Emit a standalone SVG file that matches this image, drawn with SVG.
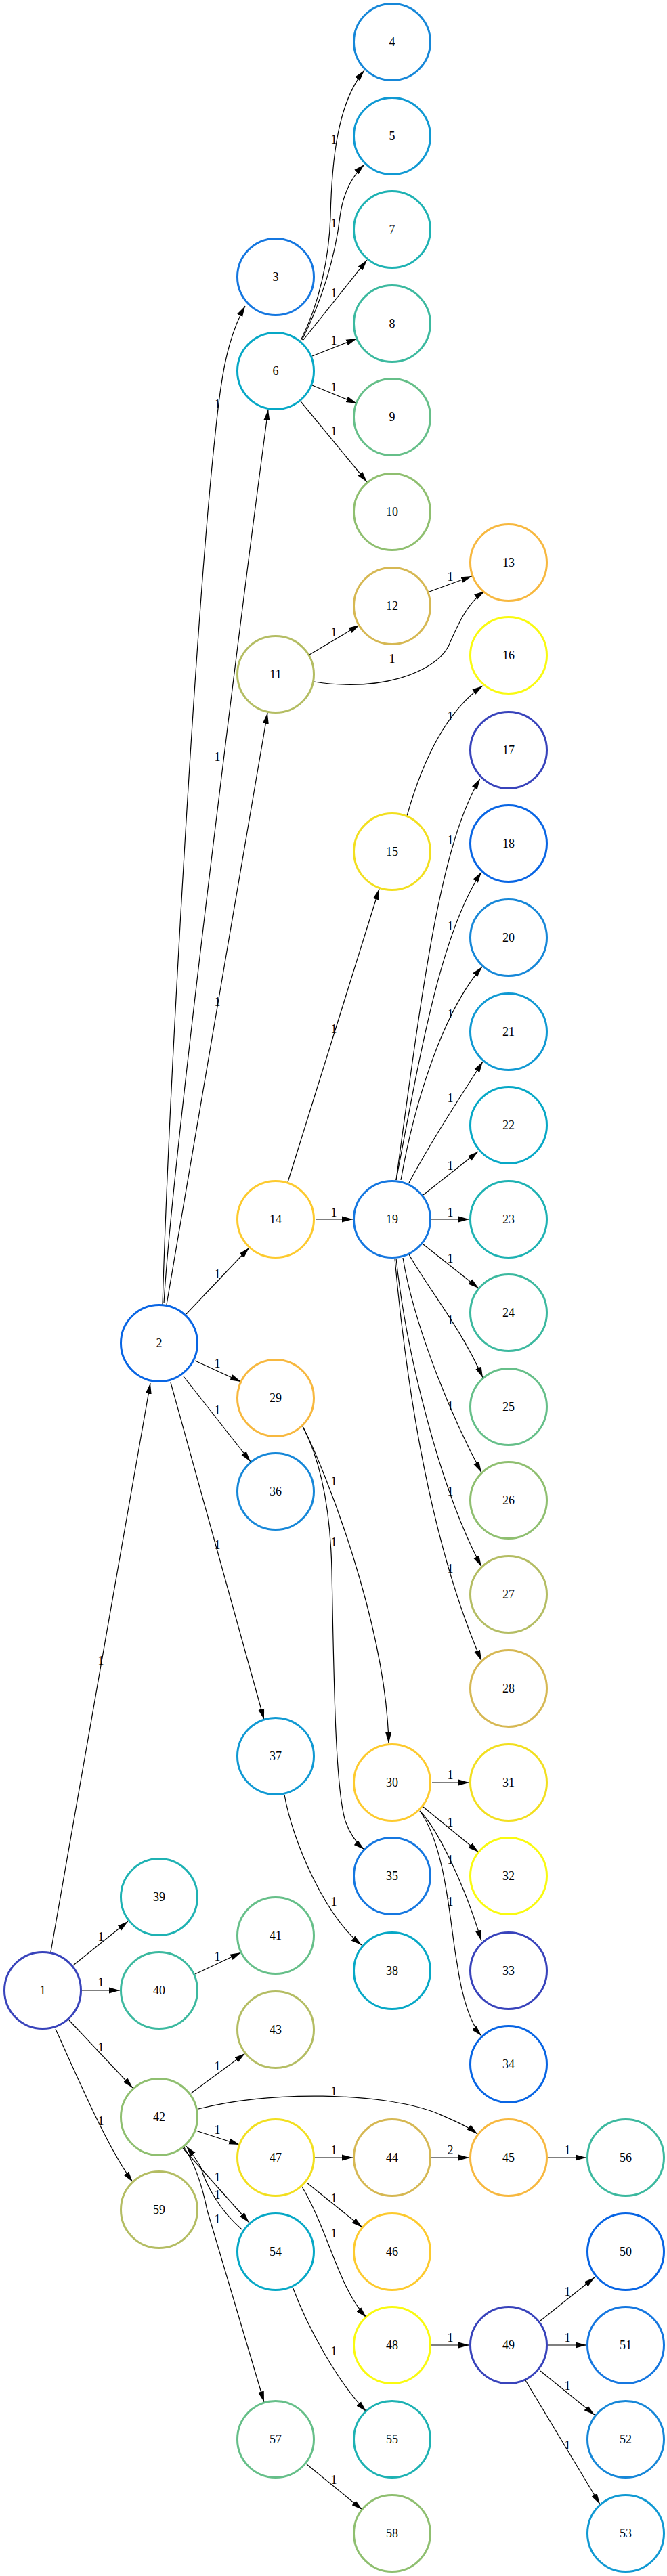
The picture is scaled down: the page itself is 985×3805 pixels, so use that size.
<svg xmlns="http://www.w3.org/2000/svg" width="985" height="3805" viewBox="0 0 985 3805">
<style>
.n{fill:#fff;stroke-width:3}
.t{font-family:"Liberation Serif","Times New Roman",serif;font-size:18px;text-anchor:middle;fill:#000}
.e{fill:none;stroke:#000;stroke-width:1.2;marker-end:url(#a)}
.c0{stroke:#3843bb}.c1{stroke:#0865e4}.c2{stroke:#1577e0}.c3{stroke:#1687d8}
.c4{stroke:#1099d3}.c5{stroke:#07a8c6}.c6{stroke:#1eb2b3}.c7{stroke:#3cb99f}
.c8{stroke:#66bf89}.c9{stroke:#8fbf70}.c10{stroke:#b4bd63}.c11{stroke:#d6b853}
.c12{stroke:#f7b83f}.c13{stroke:#fdca2e}.c14{stroke:#f2df1f}.c15{stroke:#f9fa10}
</style>
<defs>
<marker id="a" viewBox="0 0 16 10" refX="16" refY="5" markerWidth="16" markerHeight="10" markerUnits="userSpaceOnUse" orient="auto"><path d="M0,0.5 L16,5 L0,9.5 z" fill="#000"/></marker>
</defs>
<rect width="985" height="3805" fill="#fff"/>
<g id="connectors">
<path class="e" d="M75,2883 L222,2043"/><text class="t" x="149" y="2459">1</text>
<path class="e" d="M108,2903 L189,2838"/><text class="t" x="149" y="2867">1</text>
<path class="e" d="M121,2940 L177,2940"/><text class="t" x="149" y="2934">1</text>
<path class="e" d="M102,2984 L196,3084"/><text class="t" x="149" y="3030">1</text>
<path class="e" d="M82,2997 C115,3070 160,3175 196,3223"/><text class="t" x="149" y="3139">1</text>
<path class="e" d="M240,1927 C250,1600 290,900 318,640 C326,560 335,500 362,452"/><text class="t" x="321" y="603">1</text>
<path class="e" d="M242,1925 C255,1700 370,800 396,605"/><text class="t" x="321" y="1124">1</text>
<path class="e" d="M246,1927 L395,1053"/><text class="t" x="321" y="1486">1</text>
<path class="e" d="M275,1941 L368,1843"/><text class="t" x="321" y="1888">1</text>
<path class="e" d="M288,2010 L356,2041"/><text class="t" x="321" y="2020">1</text>
<path class="e" d="M271,2033 L370,2159"/><text class="t" x="321" y="2089">1</text>
<path class="e" d="M252,2042 L390,2540"/><text class="t" x="321" y="2288">1</text>
<path class="e" d="M444,503 C472,448 486,380 488,320 C490,230 500,150 538,104"/><text class="t" x="493" y="212">1</text>
<path class="e" d="M446,502 C475,445 495,380 502,320 C506,290 518,262 538,243"/><text class="t" x="493" y="336">1</text>
<path class="e" d="M448,502 L542,384"/><text class="t" x="493" y="439">1</text>
<path class="e" d="M461,526 L527,500"/><text class="t" x="493" y="509">1</text>
<path class="e" d="M461,569 L527,596"/><text class="t" x="493" y="578">1</text>
<path class="e" d="M444,593 L542,712"/><text class="t" x="493" y="643">1</text>
<path class="e" d="M457,967 L531,923"/><text class="t" x="493" y="940">1</text>
<path class="e" d="M634,874 L697,851"/><text class="t" x="665" y="858">1</text>
<path class="e" d="M464,1007 C560,1022 640,995 662,955 C675,925 690,890 716,873"/><text class="t" x="579" y="979">1</text>
<path class="e" d="M425,1746 L560,1313"/><text class="t" x="493" y="1526">1</text>
<path class="e" d="M466,1801 L521,1801"/><text class="t" x="493" y="1797">1</text>
<path class="e" d="M601,1205 C625,1120 660,1050 713,1013"/><text class="t" x="665" y="1064">1</text>
<path class="e" d="M585,1743 C625,1450 650,1250 709,1150"/><text class="t" x="665" y="1247">1</text>
<path class="e" d="M585,1743 C620,1560 650,1380 711,1288"/><text class="t" x="665" y="1374">1</text>
<path class="e" d="M592,1743 C610,1640 650,1500 712,1428"/><text class="t" x="665" y="1504">1</text>
<path class="e" d="M604,1747 C640,1680 680,1620 713,1568"/><text class="t" x="665" y="1628">1</text>
<path class="e" d="M625,1765 L706,1701"/><text class="t" x="665" y="1728">1</text>
<path class="e" d="M637,1801 L693,1801"/><text class="t" x="665" y="1797">1</text>
<path class="e" d="M625,1838 L707,1903"/><text class="t" x="665" y="1865">1</text>
<path class="e" d="M604,1853 C630,1900 680,1960 713,2035"/><text class="t" x="665" y="1956">1</text>
<path class="e" d="M595,1858 C610,1950 660,2080 711,2175"/><text class="t" x="665" y="2083">1</text>
<path class="e" d="M585,1859 C600,2000 650,2200 711,2314"/><text class="t" x="665" y="2209">1</text>
<path class="e" d="M583,1859 C605,2100 645,2300 711,2453"/><text class="t" x="665" y="2323">1</text>
<path class="e" d="M447,2107 C480,2170 570,2400 574,2575"/><text class="t" x="493" y="2194">1</text>
<path class="e" d="M447,2107 C475,2160 488,2230 490,2320 C493,2480 495,2640 510,2690 C517,2710 526,2722 538,2732"/><text class="t" x="493" y="2284">1</text>
<path class="e" d="M638,2633 L693,2633"/><text class="t" x="665" y="2628">1</text>
<path class="e" d="M625,2669 L707,2736"/><text class="t" x="665" y="2698">1</text>
<path class="e" d="M620,2675 C645,2700 685,2780 711,2867"/><text class="t" x="665" y="2753">1</text>
<path class="e" d="M620,2675 C660,2730 665,2850 675,2900 C682,2950 695,2990 711,3007"/><text class="t" x="665" y="2815">1</text>
<path class="e" d="M420,2651 C432,2720 480,2830 534,2873"/><text class="t" x="493" y="2815">1</text>
<path class="e" d="M288,2916 L356,2884"/><text class="t" x="321" y="2896">1</text>
<path class="e" d="M282,3092 L362,3033"/><text class="t" x="321" y="3058">1</text>
<path class="e" d="M293,3115 C400,3088 560,3090 642,3120 C665,3130 690,3140 705,3152"/><text class="t" x="493" y="3095">1</text>
<path class="e" d="M289,3147 L354,3168"/><text class="t" x="321" y="3152">1</text>
<path class="e" d="M465,3187 L521,3187"/><text class="t" x="493" y="3182">1</text>
<path class="e" d="M637,3187 L693,3187"/><text class="t" x="665" y="3182">2</text>
<path class="e" d="M809,3187 L866,3187"/><text class="t" x="838" y="3182">1</text>
<path class="e" d="M453,3224 L535,3290"/><text class="t" x="493" y="3253">1</text>
<path class="e" d="M446,3230 C485,3295 500,3380 541,3423"/><text class="t" x="493" y="3305">1</text>
<path class="e" d="M637,3464 L693,3464"/><text class="t" x="665" y="3459">1</text>
<path class="e" d="M798,3428 L878,3364"/><text class="t" x="838" y="3391">1</text>
<path class="e" d="M809,3464 L866,3464"/><text class="t" x="838" y="3459">1</text>
<path class="e" d="M798,3502 L878,3567"/><text class="t" x="838" y="3530">1</text>
<path class="e" d="M776,3516 L886,3699"/><text class="t" x="838" y="3618">1</text>
<path class="e" d="M270,3173 L368,3283"/><text class="t" x="321" y="3222">1</text>
<path class="e" d="M357,3293 C325,3265 305,3230 296,3200 C290,3190 283,3180 275,3170"/><text class="t" x="321" y="3248">1</text>
<path class="e" d="M272,3172 C290,3200 300,3235 306,3265 L390,3548"/><text class="t" x="321" y="3284">1</text>
<path class="e" d="M432,3378 C455,3440 500,3520 541,3562"/><text class="t" x="493" y="3479">1</text>
<path class="e" d="M453,3640 L535,3707"/><text class="t" x="493" y="3669">1</text>
</g>
<g id="node1"><circle class="n c0" cx="63" cy="2940" r="56.5"/><text class="t" x="63" y="2946">1</text></g>
<g id="node2"><circle class="n c1" cx="235" cy="1984" r="56.5"/><text class="t" x="235" y="1990">2</text></g>
<g id="node3"><circle class="n c2" cx="407" cy="409" r="56.5"/><text class="t" x="407" y="415">3</text></g>
<g id="node4"><circle class="n c3" cx="579" cy="62" r="56.5"/><text class="t" x="579" y="68">4</text></g>
<g id="node5"><circle class="n c4" cx="579" cy="201" r="56.5"/><text class="t" x="579" y="207">5</text></g>
<g id="node6"><circle class="n c5" cx="407" cy="548" r="56.5"/><text class="t" x="407" y="554">6</text></g>
<g id="node7"><circle class="n c6" cx="579" cy="339" r="56.5"/><text class="t" x="579" y="345">7</text></g>
<g id="node8"><circle class="n c7" cx="579" cy="478" r="56.5"/><text class="t" x="579" y="484">8</text></g>
<g id="node9"><circle class="n c8" cx="579" cy="616" r="56.5"/><text class="t" x="579" y="622">9</text></g>
<g id="node10"><circle class="n c9" cx="579" cy="756" r="56.5"/><text class="t" x="579" y="762">10</text></g>
<g id="node11"><circle class="n c10" cx="407" cy="996" r="56.5"/><text class="t" x="407" y="1002">11</text></g>
<g id="node12"><circle class="n c11" cx="579" cy="895" r="56.5"/><text class="t" x="579" y="901">12</text></g>
<g id="node13"><circle class="n c12" cx="751" cy="831" r="56.5"/><text class="t" x="751" y="837">13</text></g>
<g id="node14"><circle class="n c13" cx="407" cy="1801" r="56.5"/><text class="t" x="407" y="1807">14</text></g>
<g id="node15"><circle class="n c14" cx="579" cy="1258" r="56.5"/><text class="t" x="579" y="1264">15</text></g>
<g id="node16"><circle class="n c15" cx="751" cy="968" r="56.5"/><text class="t" x="751" y="974">16</text></g>
<g id="node17"><circle class="n c0" cx="751" cy="1108" r="56.5"/><text class="t" x="751" y="1114">17</text></g>
<g id="node18"><circle class="n c1" cx="751" cy="1246" r="56.5"/><text class="t" x="751" y="1252">18</text></g>
<g id="node19"><circle class="n c2" cx="579" cy="1801" r="56.5"/><text class="t" x="579" y="1807">19</text></g>
<g id="node20"><circle class="n c3" cx="751" cy="1385" r="56.5"/><text class="t" x="751" y="1391">20</text></g>
<g id="node21"><circle class="n c4" cx="751" cy="1524" r="56.5"/><text class="t" x="751" y="1530">21</text></g>
<g id="node22"><circle class="n c5" cx="751" cy="1662" r="56.5"/><text class="t" x="751" y="1668">22</text></g>
<g id="node23"><circle class="n c6" cx="751" cy="1801" r="56.5"/><text class="t" x="751" y="1807">23</text></g>
<g id="node24"><circle class="n c7" cx="751" cy="1939" r="56.5"/><text class="t" x="751" y="1945">24</text></g>
<g id="node25"><circle class="n c8" cx="751" cy="2078" r="56.5"/><text class="t" x="751" y="2084">25</text></g>
<g id="node26"><circle class="n c9" cx="751" cy="2216" r="56.5"/><text class="t" x="751" y="2222">26</text></g>
<g id="node27"><circle class="n c10" cx="751" cy="2355" r="56.5"/><text class="t" x="751" y="2361">27</text></g>
<g id="node28"><circle class="n c11" cx="751" cy="2494" r="56.5"/><text class="t" x="751" y="2500">28</text></g>
<g id="node29"><circle class="n c12" cx="407" cy="2065" r="56.5"/><text class="t" x="407" y="2071">29</text></g>
<g id="node30"><circle class="n c13" cx="579" cy="2633" r="56.5"/><text class="t" x="579" y="2639">30</text></g>
<g id="node31"><circle class="n c14" cx="751" cy="2633" r="56.5"/><text class="t" x="751" y="2639">31</text></g>
<g id="node32"><circle class="n c15" cx="751" cy="2771" r="56.5"/><text class="t" x="751" y="2777">32</text></g>
<g id="node33"><circle class="n c0" cx="751" cy="2911" r="56.5"/><text class="t" x="751" y="2917">33</text></g>
<g id="node34"><circle class="n c1" cx="751" cy="3049" r="56.5"/><text class="t" x="751" y="3055">34</text></g>
<g id="node35"><circle class="n c2" cx="579" cy="2771" r="56.5"/><text class="t" x="579" y="2777">35</text></g>
<g id="node36"><circle class="n c3" cx="407" cy="2203" r="56.5"/><text class="t" x="407" y="2209">36</text></g>
<g id="node37"><circle class="n c4" cx="407" cy="2594" r="56.5"/><text class="t" x="407" y="2600">37</text></g>
<g id="node38"><circle class="n c5" cx="579" cy="2911" r="56.5"/><text class="t" x="579" y="2917">38</text></g>
<g id="node39"><circle class="n c6" cx="235" cy="2802" r="56.5"/><text class="t" x="235" y="2808">39</text></g>
<g id="node40"><circle class="n c7" cx="235" cy="2940" r="56.5"/><text class="t" x="235" y="2946">40</text></g>
<g id="node41"><circle class="n c8" cx="407" cy="2859" r="56.5"/><text class="t" x="407" y="2865">41</text></g>
<g id="node42"><circle class="n c9" cx="235" cy="3127" r="56.5"/><text class="t" x="235" y="3133">42</text></g>
<g id="node43"><circle class="n c10" cx="407" cy="2998" r="56.5"/><text class="t" x="407" y="3004">43</text></g>
<g id="node44"><circle class="n c11" cx="579" cy="3187" r="56.5"/><text class="t" x="579" y="3193">44</text></g>
<g id="node45"><circle class="n c12" cx="751" cy="3187" r="56.5"/><text class="t" x="751" y="3193">45</text></g>
<g id="node46"><circle class="n c13" cx="579" cy="3326" r="56.5"/><text class="t" x="579" y="3332">46</text></g>
<g id="node47"><circle class="n c14" cx="407" cy="3187" r="56.5"/><text class="t" x="407" y="3193">47</text></g>
<g id="node48"><circle class="n c15" cx="579" cy="3464" r="56.5"/><text class="t" x="579" y="3470">48</text></g>
<g id="node49"><circle class="n c0" cx="751" cy="3464" r="56.5"/><text class="t" x="751" y="3470">49</text></g>
<g id="node50"><circle class="n c1" cx="924" cy="3326" r="56.5"/><text class="t" x="924" y="3332">50</text></g>
<g id="node51"><circle class="n c2" cx="924" cy="3464" r="56.5"/><text class="t" x="924" y="3470">51</text></g>
<g id="node52"><circle class="n c3" cx="924" cy="3603" r="56.5"/><text class="t" x="924" y="3609">52</text></g>
<g id="node53"><circle class="n c4" cx="924" cy="3742" r="56.5"/><text class="t" x="924" y="3748">53</text></g>
<g id="node54"><circle class="n c5" cx="407" cy="3326" r="56.5"/><text class="t" x="407" y="3332">54</text></g>
<g id="node55"><circle class="n c6" cx="579" cy="3603" r="56.5"/><text class="t" x="579" y="3609">55</text></g>
<g id="node56"><circle class="n c7" cx="924" cy="3187" r="56.5"/><text class="t" x="924" y="3193">56</text></g>
<g id="node57"><circle class="n c8" cx="407" cy="3603" r="56.5"/><text class="t" x="407" y="3609">57</text></g>
<g id="node58"><circle class="n c9" cx="579" cy="3742" r="56.5"/><text class="t" x="579" y="3748">58</text></g>
<g id="node59"><circle class="n c10" cx="235" cy="3264" r="56.5"/><text class="t" x="235" y="3270">59</text></g>
</svg>
